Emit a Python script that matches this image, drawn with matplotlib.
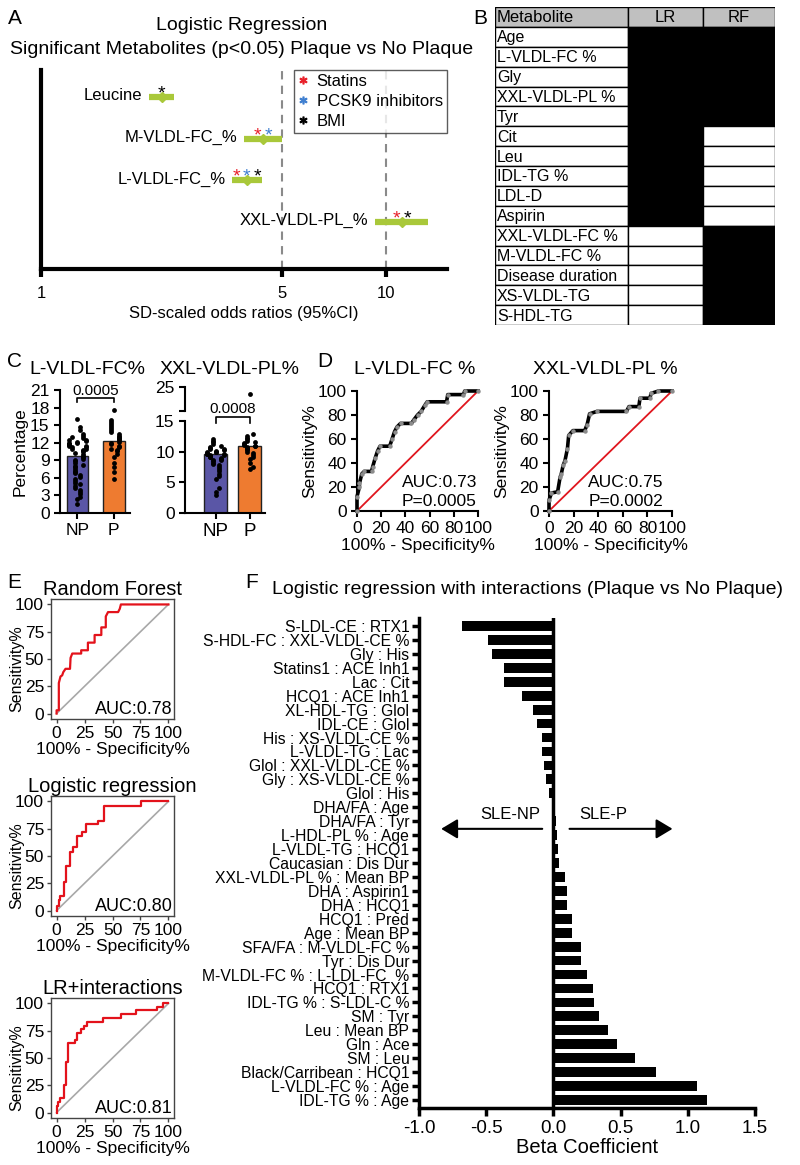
import numpy as np
import matplotlib
matplotlib.use('Agg')
import matplotlib.pyplot as plt
from matplotlib.patches import Rectangle
from matplotlib.lines import Line2D

plt.rcParams['font.family'] = ['Liberation Sans', 'DejaVu Sans']

# ---------------- data ----------------
# A: forest plot
a_names = ['Leucine', 'M-VLDL-FC_%', 'L-VLDL-FC_%', 'XXL-VLDL-PL_%']
a_or = [2.24, 4.40, 3.95, 11.1]
a_lo = [2.06, 3.88, 3.58, 9.3]
a_hi = [2.43, 5.0, 4.37, 13.2]
a_adjust = [['BMI'], ['Statins', 'PCSK9 inhibitors'],
            ['Statins', 'PCSK9 inhibitors', 'BMI'], ['Statins', 'BMI']]
adj_names = ['Statins', 'PCSK9 inhibitors', 'BMI']
adj_colors = {'Statins': '#e8202a', 'PCSK9 inhibitors': '#3f7fd0', 'BMI': 'black'}

# B: selected features table
b_metabolites = ['Age', 'L-VLDL-FC %', 'Gly', 'XXL-VLDL-PL %', 'Tyr', 'Cit', 'Leu',
                 'IDL-TG %', 'LDL-D', 'Aspirin', 'XXL-VLDL-FC %', 'M-VLDL-FC %',
                 'Disease duration', 'XS-VLDL-TG', 'S-HDL-TG']
b_lr = [1, 1, 1, 1, 1, 1, 1, 1, 1, 1, 0, 0, 0, 0, 0]
b_rf = [1, 1, 1, 1, 1, 0, 0, 0, 0, 0, 1, 1, 1, 1, 1]

# C: bar + dot plots
c1_np = [16.0, 14.7, 14.2, 13.5, 13.2, 13.0, 12.8, 12.5, 12.4, 12.3, 12.1, 12.0, 11.9,
         11.8, 11.7, 11.6, 11.5, 11.4, 11.3, 11.2, 11.0, 10.9, 10.8, 10.6, 10.5, 10.3,
         10.0, 9.8, 9.6, 9.5, 9.2, 9.0, 8.8, 8.5, 8.2, 8.0, 7.8, 7.5, 7.2, 7.0, 6.8,
         6.5, 6.2, 5.8, 5.5, 5.2, 5.0, 4.6, 4.3, 4.0, 3.6, 3.2, 2.8, 2.4, 1.5]
c1_p = [17.5, 15.8, 15.5, 15.2, 14.8, 14.5, 14.2, 13.8, 13.5, 13.2, 13.0, 12.8, 12.6,
        12.4, 12.2, 12.0, 11.8, 11.5, 11.2, 11.0, 10.8, 10.5, 10.0, 9.5, 8.5, 7.8,
        7.0, 5.8]
c1_means = [9.8, 12.3]
c2_np = [12.0, 11.8, 11.5, 11.3, 11.0, 10.8, 10.6, 10.5, 10.4, 10.3, 10.1, 10.0, 9.9,
         9.9, 9.8, 9.7, 9.6, 9.6, 9.5, 9.4, 9.3, 9.2, 9.1, 9.0, 8.8, 8.7, 8.6, 8.4,
         8.2, 8.0, 7.8, 7.5, 7.2, 6.8, 6.4, 6.0, 5.5, 4.0, 3.5, 2.9]
c2_p = [22.0, 12.8, 12.5, 12.2, 12.0, 11.8, 11.6, 11.4, 11.2, 11.1, 11.0, 10.9, 10.8,
        10.6, 10.4, 10.2, 10.0, 9.8, 9.5, 9.2, 8.8, 8.2, 7.5, 7.2]
c2_means = [9.6, 10.9]
c_groups = ['NP', 'P']
c_pvals = ['0.0005', '0.0008']

# D: single-metabolite ROC curves
d1_fpr = [0, 0, 2, 2, 4, 6, 12, 13, 15, 17, 19, 27, 29, 31, 33, 36, 45, 47, 50, 53,
          56, 58, 74, 75, 88, 89, 100]
d1_tpr = [0, 12, 20, 23, 31, 33, 33, 37, 44, 50, 54, 54, 60, 66, 70, 73, 73, 76, 80,
          83, 88, 91, 91, 97, 97, 100, 100]
d2_fpr = [0, 0, 2, 7, 9, 10, 11.5, 13, 15, 16, 19.5, 29, 31, 33, 39, 63, 65, 73, 74,
          82, 83, 89, 100]
d2_tpr = [0, 9, 15, 16, 28, 31, 38, 42, 52, 63, 67, 67, 72, 81, 83, 83, 87, 87, 94,
          94, 98, 100, 100]

# E: model ROC curves
rf_fpr = [0, 0, 2, 2, 3.5, 5, 6, 8, 12, 12.5, 14, 22, 22, 28, 28, 34, 34, 40, 40, 44,
          44, 46, 55, 56.5, 57.5, 100]
rf_tpr = [0, 3, 3, 28, 34, 35, 38, 41, 41, 51, 55, 55, 58, 58, 65, 65, 72, 72, 79, 79,
          89, 93, 93, 96, 100, 100]
lr_fpr = [0, 0, 2, 2, 3, 3, 7, 7, 8.8, 8.8, 12.3, 12.3, 15.1, 15.1, 18.6, 18.6, 22.3,
          22.3, 26.6, 26.6, 36.7, 36.7, 42.5, 42.5, 75.5, 75.5, 100]
lr_tpr = [0, 4, 4, 10, 10, 13, 13, 26.6, 26.6, 41, 41, 54, 54, 58.4, 58.4, 68.5, 68.5,
          71.6, 71.6, 79.2, 79.2, 82.3, 82.3, 96, 96, 100, 100]
lri_fpr = [0, 0, 1, 1, 3, 3, 7, 7, 8.1, 8.1, 10.2, 10.2, 16.9, 16.9, 18.3, 18.3, 21.8,
           21.8, 24.8, 24.8, 27, 27, 41.6, 41.6, 57.7, 57.7, 71.4, 71.4, 89.8, 89.8,
           95.6, 95.6, 100]
lri_tpr = [0, 6, 6, 10, 10, 13, 13, 25, 25, 46.5, 46.5, 63.3, 63.3, 66.4, 66.4, 73, 73,
           77, 77, 79, 79, 83, 83, 87, 87, 90.5, 90.5, 93.6, 93.6, 97.2, 97.2, 100, 100]
e_titles = ['Random Forest', 'Logistic regression', 'LR+interactions']
e_auc = ['AUC:0.78', 'AUC:0.80', 'AUC:0.81']

# F: interaction betas
f_labels = ['S-LDL-CE : RTX1', 'S-HDL-FC : XXL-VLDL-CE %', 'Gly : His',
            'Statins1 : ACE Inh1', 'Lac : Cit', 'HCQ1 : ACE Inh1', 'XL-HDL-TG : Glol',
            'IDL-CE : Glol', 'His : XS-VLDL-CE %', 'L-VLDL-TG : Lac',
            'Glol : XXL-VLDL-CE %', 'Gly : XS-VLDL-CE %', 'Glol : His', 'DHA/FA : Age',
            'DHA/FA : Tyr', 'L-HDL-PL % : Age', 'L-VLDL-TG : HCQ1',
            'Caucasian : Dis Dur', 'XXL-VLDL-PL % : Mean BP', 'DHA : Aspirin1',
            'DHA : HCQ1', 'HCQ1 : Pred', 'Age : Mean BP', 'SFA/FA : M-VLDL-FC %',
            'Tyr : Dis Dur', 'M-VLDL-FC % : L-LDL-FC  %', 'HCQ1 : RTX1',
            'IDL-TG % : S-LDL-C %', 'SM : Tyr', 'Leu : Mean BP', 'Gln : Ace',
            'SM : Leu', 'Black/Carribean : HCQ1', 'L-VLDL-FC % : Age', 'IDL-TG % : Age']
f_beta = [-0.68, -0.49, -0.46, -0.37, -0.37, -0.23, -0.154, -0.125, -0.087, -0.084,
          -0.07, -0.055, -0.032, 0.015, 0.02, 0.025, 0.037, 0.043, 0.087, 0.098, 0.104,
          0.139, 0.139, 0.203, 0.203, 0.249, 0.292, 0.301, 0.341, 0.408, 0.475, 0.608,
          0.764, 1.065, 1.143]

GREEN = '#a9c83a'
NP_COL = '#5a56a6'
P_COL = '#ee7b30'

W, H = 800, 1165
fig = plt.figure(figsize=(W / 100, H / 100), dpi=100)


def px_axes(x0, y0, x1, y1):
    return fig.add_axes([x0 / W, 1 - y1 / H, (x1 - x0) / W, (y1 - y0) / H])


def swarm(vals, step, tol, nmax=4):
    # simple deterministic beeswarm: alternate left/right for close values,
    # wrapping back to the centre once the band is full
    vals = np.asarray(vals, dtype=float)
    offs = np.zeros(len(vals))
    placed = []
    for i in np.argsort(vals):
        k = sum(1 for p in placed if abs(vals[p] - vals[i]) < tol)
        k = k % (2 * nmax - 1)
        offs[i] = ((k + 1) // 2) * step * (1 if k % 2 else -1)
        placed.append(i)
    return offs


# ---------------- panel letters ----------------
for letter, x, y in [('A', 15, 19), ('B', 480, 19), ('C', 14, 362), ('D', 325, 362),
                     ('E', 14, 583), ('F', 252, 583)]:
    fig.text(x / W, 1 - y / H, letter, fontsize=15, ha='center', va='center')

# ---------------- A ----------------
fig.text(242 / W, 1 - 26 / H, 'Logistic Regression', fontsize=14, ha='center', va='center')
fig.text(242 / W, 1 - 49 / H, 'Significant Metabolites (p<0.05) Plaque vs No Plaque',
         fontsize=14, ha='center', va='center')
axA = px_axes(41, 70, 447, 269)
axA.set_xscale('log')
axA.set_xlim(1, 15)
ypos = np.arange(len(a_names), 0, -1)
axA.set_ylim(-0.13, 4.65)
for xv in [5, 10]:
    axA.axvline(xv, color='#8a8a8a', ls=(0, (4, 3)), lw=1.5, zorder=1)
axA.hlines(ypos, a_lo, a_hi, color=GREEN, lw=4.5, zorder=3)
axA.plot(a_or, ypos, 'D', ms=5, color=GREEN, zorder=4)
for name, lo, orv, y, adj in zip(a_names, a_lo, a_or, ypos, a_adjust):
    axA.annotate(name, xy=(lo, y), xytext=(-5, 1), textcoords='offset points',
                 ha='right', va='center', fontsize=12)
    n = len(adj)
    for k, a in enumerate(adj):
        dx = (k - (n - 1) / 2) * 7.5
        axA.annotate('*', xy=(orv, y), xytext=(dx, -1), textcoords='offset points',
                     ha='center', va='baseline', fontsize=14, color=adj_colors[a])
handles = [Line2D([], [], marker='$*$', ls='none', color=adj_colors[a], ms=5)
           for a in adj_names]
leg = axA.legend(handles, adj_names, loc='upper right', bbox_to_anchor=(1.0, 1.0),
                 fancybox=False, edgecolor='#333333', borderaxespad=0,
                 handlelength=0.6, handletextpad=0.5, fontsize=12, labelspacing=0.28,
                 borderpad=0.25)
leg.get_frame().set_linewidth(1.0)
axA.spines[['top', 'right']].set_visible(False)
axA.spines[['left', 'bottom']].set_linewidth(3)
axA.set_yticks([])
axA.set_xticks([1, 5, 10])
axA.set_xticklabels(['1', '5', '10'])
axA.xaxis.set_minor_locator(matplotlib.ticker.NullLocator())
axA.tick_params(axis='x', length=6, width=3, labelsize=12, pad=6)
axA.set_xlabel('SD-scaled odds ratios (95%CI)', fontsize=12, labelpad=4)

# ---------------- B ----------------
axB = px_axes(495, 7, 775, 325)
col_edges = [0, 133, 208, 280]
nrows = len(b_metabolites) + 1
axB.set_xlim(0, 280)
axB.set_ylim(nrows, 0)
axB.axis('off')
header = ['Metabolite', 'LR', 'RF']
for c in range(3):
    axB.add_patch(Rectangle((col_edges[c], 0), col_edges[c + 1] - col_edges[c], 1,
                            facecolor='#c0c0c0', edgecolor='black', lw=1))
    if c == 0:
        axB.text(2, 0.55, header[c], ha='left', va='center', fontsize=12)
    else:
        axB.text((col_edges[c] + col_edges[c + 1]) / 2, 0.55, header[c], ha='center',
                 va='center', fontsize=12)
for r, (m, lr, rf) in enumerate(zip(b_metabolites, b_lr, b_rf), start=1):
    axB.add_patch(Rectangle((0, r), col_edges[1], 1, facecolor='white',
                            edgecolor='black', lw=1))
    axB.text(2, r + 0.55, m, ha='left', va='center', fontsize=11.5)
    for c, flag in [(1, lr), (2, rf)]:
        axB.add_patch(Rectangle((col_edges[c], r), col_edges[c + 1] - col_edges[c], 1,
                                facecolor='black' if flag else 'white',
                                edgecolor='black', lw=1))

# ---------------- C ----------------
def style_simple(ax, lw=1.5):
    ax.spines[['top', 'right']].set_visible(False)
    ax.spines[['left', 'bottom']].set_linewidth(lw)
    ax.tick_params(width=lw, length=4, labelsize=12.5)


fig.text(87 / W, 1 - 370 / H, 'L-VLDL-FC%', fontsize=14, ha='center', va='center')
fig.text(230 / W, 1 - 370 / H, 'XXL-VLDL-PL%', fontsize=14, ha='center', va='center')

axC1 = px_axes(60, 390, 130, 513)
axC1.bar([0, 1], c1_means, width=0.6, color=[NP_COL, P_COL], edgecolor='#222222',
         lw=1, zorder=2)
for xi, vals in enumerate([c1_np, c1_p]):
    axC1.scatter(xi + swarm(vals, 0.08, 0.7), vals, s=12, color='black', zorder=3,
                 lw=0)
axC1.plot([0, 0, 1, 1], [18.9, 19.6, 19.6, 18.9], color='black', lw=1.2)
axC1.text(0.5, 20.8, c_pvals[0], ha='center', va='center', fontsize=11)
axC1.set_xlim(-0.48, 1.45)
axC1.set_ylim(0, 21)
axC1.set_yticks(np.arange(0, 22, 3))
axC1.set_xticks([0, 1])
axC1.set_xticklabels(c_groups, fontsize=13.5)
axC1.set_ylabel('Percentage', fontsize=12.5, labelpad=2)
style_simple(axC1)

axC2 = px_axes(185, 421, 265, 513)
axC2u = px_axes(185, 387, 265, 411)
axC2u.patch.set_visible(False)
axC2.bar([0, 1], c2_means, width=0.68, color=[NP_COL, P_COL], edgecolor='#222222',
         lw=1, zorder=2)
for xi, vals in enumerate([c2_np, c2_p]):
    vals = np.asarray(vals)
    offs = swarm(vals, 0.085, 0.55)
    low = vals <= 15
    axC2.scatter(xi + offs[low], vals[low], s=12, color='black', zorder=3, lw=0)
    axC2u.scatter(xi + offs[~low], vals[~low], s=12, color='black', zorder=3, lw=0)
axC2.plot([0, 0, 1, 1], [14.75, 15.6, 15.6, 14.75], color='black', lw=1.2,
          clip_on=False)
axC2.text(0.5, 17.0, c_pvals[1], ha='center', va='center', fontsize=11)
for ax in (axC2, axC2u):
    ax.set_xlim(-0.9, 1.45)
    style_simple(ax)
axC2.set_ylim(0, 15)
axC2.set_yticks([0, 5, 10, 15])
axC2.set_xticks([0, 1])
axC2.set_xticklabels(c_groups, fontsize=13.5)
axC2u.set_ylim(15, 25)
axC2u.set_yticks([15, 25])
axC2u.set_yticklabels(['', '25'])
axC2u.spines['bottom'].set_visible(False)
axC2u.set_xticks([])

# ---------------- D ----------------
d_sets = [(357, 478, 415, 'L-VLDL-FC %', d1_fpr, d1_tpr, 'AUC:0.73', 'P=0.0005', 37),
          (549, 672, 605, 'XXL-VLDL-PL %', d2_fpr, d2_tpr, 'AUC:0.75', 'P=0.0002', 32)]
for x0, x1, tx, title, fpr, tpr, auc, pv, ax_t in d_sets:
    ax = px_axes(x0, 391, x1, 511)
    ax.plot([0, 100], [0, 100], color='#e0161e', lw=1.3, zorder=2)
    ax.plot(fpr, tpr, color='black', lw=2.6, zorder=3, clip_on=False)
    ax.plot(fpr, tpr, 'o', ms=2.2, color='#8c8c8c', zorder=4, clip_on=False)
    ax.set_xlim(0, 100)
    ax.set_ylim(0, 100)
    ax.set_xticks(range(0, 101, 20))
    ax.set_yticks(range(0, 101, 20))
    style_simple(ax)
    ax.set_xlabel('100% - Specificity%', fontsize=12.5, labelpad=1)
    ax.set_ylabel('Sensitivity%', fontsize=12.5, labelpad=0)
    ax.text(ax_t, 24, auc, fontsize=12.5, ha='left', va='center')
    ax.text(ax_t, 8, pv, fontsize=12.5, ha='left', va='center')
    fig.text(tx / W, 1 - 369 / H, title, fontsize=14, ha='center', va='center')

# ---------------- E ----------------
e_curves = [(rf_fpr, rf_tpr), (lr_fpr, lr_tpr), (lri_fpr, lri_tpr)]
e_tops = [599, 796, 998]
for (fpr, tpr), top, title, auc in zip(e_curves, e_tops, e_titles, e_auc):
    ax = px_axes(51, top, 174, top + 120)
    ax.plot([0, 100], [0, 100], color='#a8a8a8', lw=1.2)
    ax.plot(fpr, tpr, color='#e3121b', lw=1.6)
    ax.set_xlim(-5, 105)
    ax.set_ylim(-5, 105)
    ticks = [0, 25, 50, 75, 100]
    ax.set_xticks(ticks)
    ax.set_yticks(ticks)
    for s in ax.spines.values():
        s.set_color('#444444')
        s.set_linewidth(1)
    ax.tick_params(length=3, width=1, color='#444444', labelsize=12.5, pad=2)
    ax.set_title(title, fontsize=14.5, pad=3)
    ax.set_xlabel('100% - Specificity%', fontsize=12.5, labelpad=1)
    ax.set_ylabel('Sensitivity%', fontsize=11.5)
    ax.yaxis.set_label_coords(-0.22, 0.42)
    ax.text(104, -4, auc, fontsize=13, ha='right', va='bottom')

# ---------------- F ----------------
fig.text(527 / W, 1 - 590 / H,
         'Logistic regression with interactions (Plaque vs No Plaque)',
         fontsize=14, ha='center', va='center')
axF = px_axes(419, 617.6, 755, 1108.4)
idx = np.arange(len(f_labels))
axF.barh(idx, f_beta, height=0.7, color='black', zorder=2)
axF.axvline(0, color='black', lw=2.5, zorder=3)
axF.set_ylim(len(f_labels) - 0.4, -0.6)
axF.set_xlim(-1.0, 1.5)
axF.set_yticks(idx)
axF.set_yticklabels(f_labels, fontsize=11.3)
xt = [-1.0, -0.5, 0.0, 0.5, 1.0, 1.5]
axF.set_xticks(xt)
axF.set_xticklabels([f'{v:.1f}' for v in xt], fontsize=13.5)
axF.spines[['top', 'right']].set_visible(False)
axF.spines[['left', 'bottom']].set_linewidth(2.5)
axF.tick_params(axis='y', length=5, width=2.5, pad=2)
axF.tick_params(axis='x', length=6, width=2.5, pad=2)
axF.set_xlabel('Beta Coefficient', fontsize=14.5, labelpad=1)
arrow_kw = dict(arrowstyle='-|>,head_length=0.5,head_width=0.3', lw=1.5, color='black',
                mutation_scale=20, shrinkA=0, shrinkB=0)
axF.annotate('', xy=(-0.835, 14.55), xytext=(-0.083, 14.55), arrowprops=arrow_kw)
axF.annotate('', xy=(0.886, 14.55), xytext=(0.12, 14.55), arrowprops=arrow_kw)
axF.text(-0.324, 13.5, 'SLE-NP', fontsize=12, ha='center', va='center')
axF.text(0.37, 13.5, 'SLE-P', fontsize=12, ha='center', va='center')

fig.savefig('out.png', dpi=100)
